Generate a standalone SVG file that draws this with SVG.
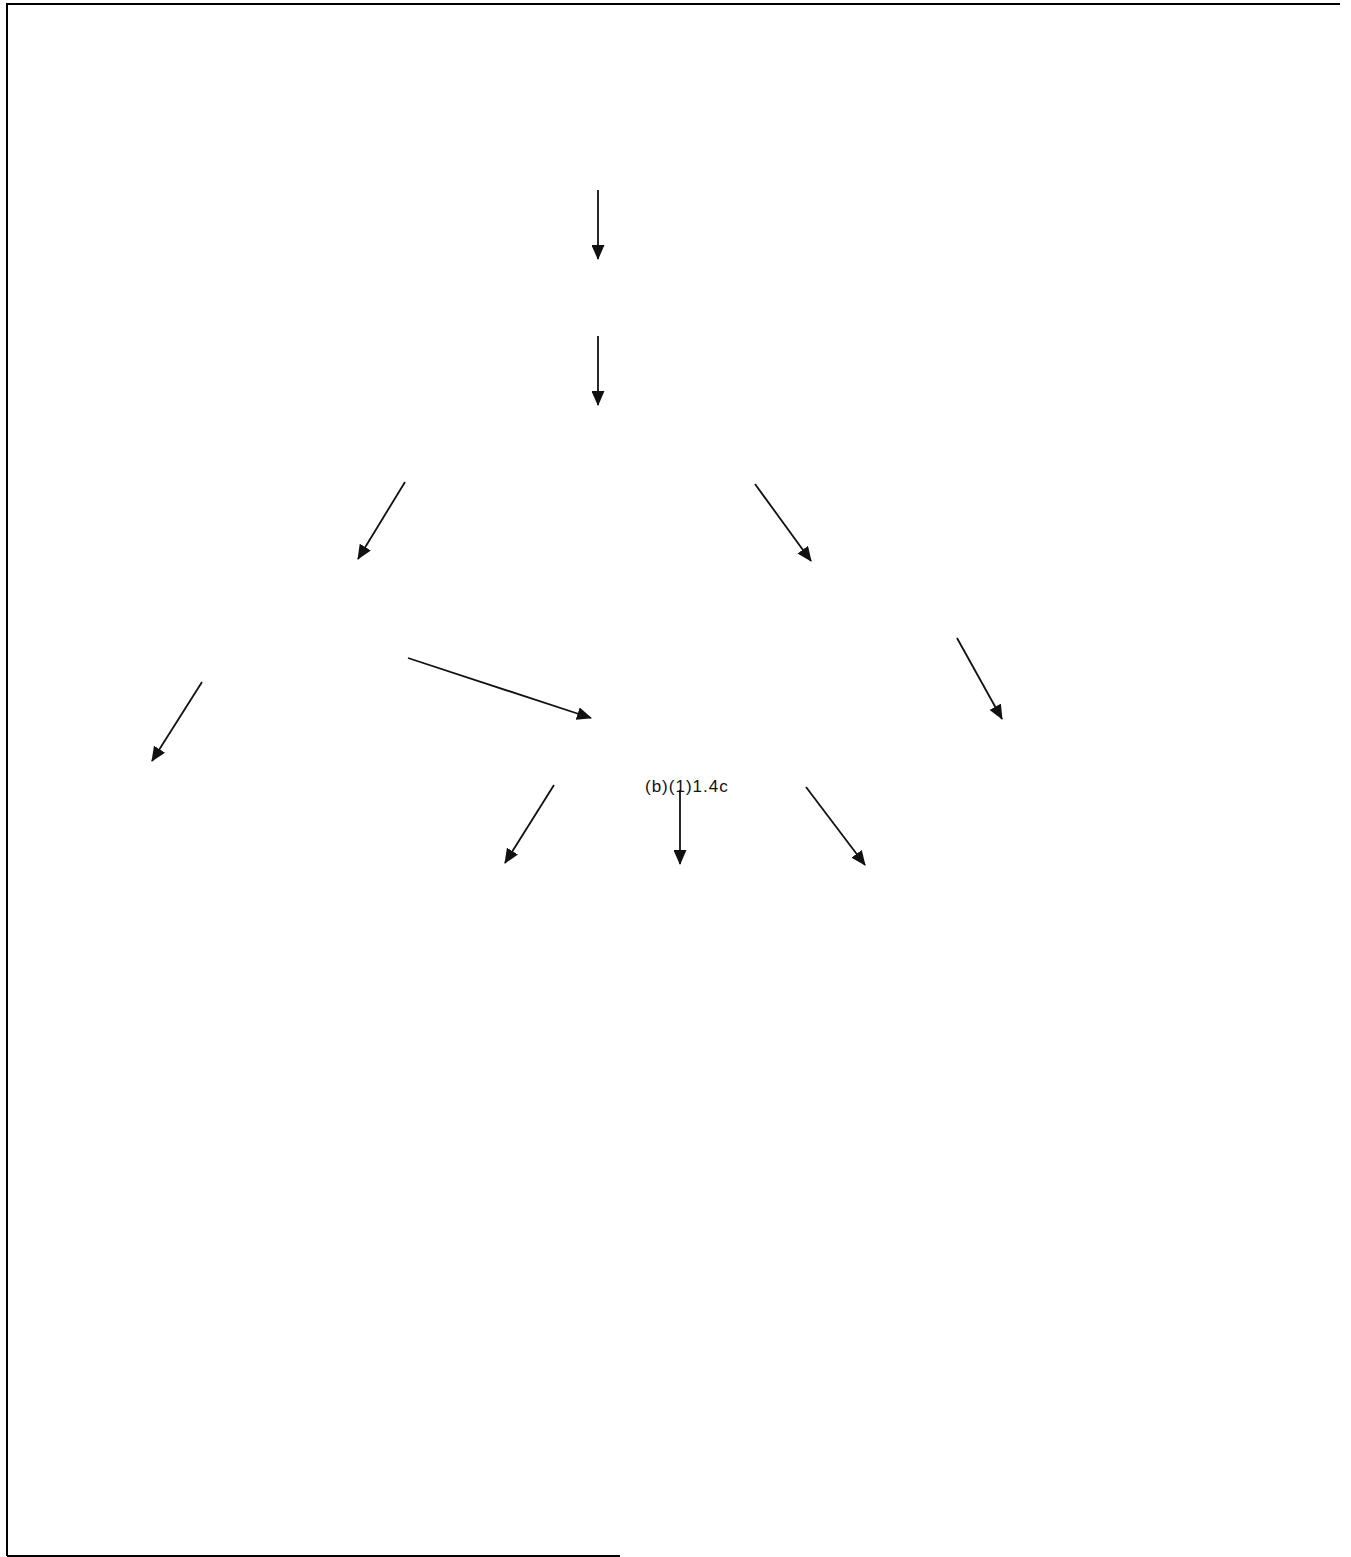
<svg xmlns="http://www.w3.org/2000/svg" width="1351" height="1557" viewBox="0 0 1351 1557">
<style>
.frame{stroke:#000;stroke-width:2;fill:none}
.conn line{stroke:#111;stroke-width:1.8;fill:none;marker-end:url(#ah)}
.lbl{font-family:"Liberation Sans",Arial,sans-serif;font-size:17px;letter-spacing:1px;fill:#111}
</style>
<defs>
<marker id="ah" markerUnits="userSpaceOnUse" markerWidth="15" markerHeight="13" viewBox="0 0 15 13" refX="14" refY="6.5" orient="auto">
<path d="M0,0 L15,6.5 L0,13 Z" fill="#111"/>
</marker>
</defs>
<rect width="1351" height="1557" fill="#fff"/>
<g id="frame">
<path class="frame" d="M7,1556 L7,4 L1340,4"/>
<path class="frame" d="M7,1556 L620,1556" stroke-width="1.5"/>
</g>
<g id="node-label">
<text class="lbl" x="645" y="792">(b)(1)1.4c</text>
</g>
<g id="connectors" class="conn">
<line x1="598" y1="190" x2="598" y2="259"/>
<line x1="598" y1="336" x2="598" y2="405"/>
<line x1="405" y1="482" x2="358" y2="559"/>
<line x1="755" y1="484" x2="811" y2="561"/>
<line x1="202" y1="682" x2="152" y2="761"/>
<line x1="408" y1="658" x2="591" y2="718"/>
<line x1="957" y1="638" x2="1002" y2="719"/>
<line x1="554" y1="785" x2="505" y2="863"/>
<line x1="680" y1="790" x2="680" y2="864"/>
<line x1="806" y1="787" x2="865" y2="865"/>
</g>
</svg>
